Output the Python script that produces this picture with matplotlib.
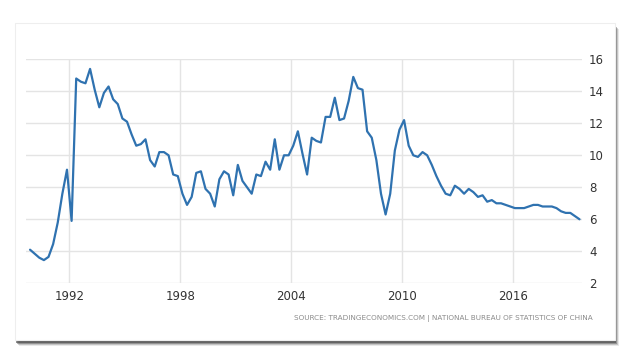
"""China GDP annual growth rate, quarterly, in the Trading Economics style."""

import matplotlib
matplotlib.use("Agg")
import matplotlib.pyplot as plt
import pandas as pd
from matplotlib.patches import Rectangle

# quarterly yoy growth, 1989Q4 .. 2019Q3
first_quarter = "1989Q4"
last_quarter = "2019Q3"
gdp_growth = [
    4.1,
    3.85, 3.6, 3.45, 3.65,
    4.45, 5.8, 7.6, 9.1,
    5.9, 14.8, 14.6, 14.5,
    15.4, 14.1, 13.0, 13.9,
    14.3, 13.5, 13.2, 12.3,
    12.1, 11.3, 10.6, 10.7,
    11.0, 9.7, 9.3, 10.2,
    10.2, 10.0, 8.8, 8.7,
    7.6, 6.9, 7.4, 8.9,
    9.0, 7.9, 7.6, 6.8,
    8.5, 9.0, 8.8, 7.5,
    9.4, 8.4, 8.0, 7.6,
    8.8, 8.7, 9.6, 9.1,
    11.0, 9.1, 10.0, 10.0,
    10.6, 11.5, 10.1, 8.8,
    11.1, 10.9, 10.8, 12.4,
    12.4, 13.6, 12.2, 12.3,
    13.4, 14.9, 14.2, 14.1,
    11.5, 11.1, 9.7, 7.6,
    6.3, 7.6, 10.3, 11.6,
    12.2, 10.6, 10.0, 9.9,
    10.2, 10.0, 9.4, 8.7,
    8.1, 7.6, 7.5, 8.1,
    7.9, 7.6, 7.9, 7.7,
    7.4, 7.5, 7.1, 7.2,
    7.0, 7.0, 6.9, 6.8,
    6.7, 6.7, 6.7, 6.8,
    6.9, 6.9, 6.8, 6.8,
    6.8, 6.7, 6.5, 6.4,
    6.4, 6.2, 6.0,
]
x_ticks = [1992, 1998, 2004, 2010, 2016]
y_ticks = [2, 4, 6, 8, 10, 12, 14, 16]
source_text = "SOURCE: TRADINGECONOMICS.COM | NATIONAL BUREAU OF STATISTICS OF CHINA"

periods = pd.period_range(first_quarter, last_quarter, freq="Q")
x = [p.year + (p.quarter - 0.5) / 4 for p in periods]

label_font = ["Liberation Sans Narrow", "DejaVu Sans"]

fig = plt.figure(figsize=(6.3, 3.6), dpi=100)
fig.patch.set_facecolor("white")

# card shadow on the right and bottom
for i, a in enumerate([0.12, 0.22, 0.38, 0.6]):
    off = (4 - i) / 630
    fig.patches.append(Rectangle((15 / 630 + off, 18 / 360 - off * 630 / 360),
                                 600 / 630, 317 / 360, transform=fig.transFigure,
                                 facecolor="#444444", alpha=a, edgecolor="none",
                                 zorder=0))
fig.patches.append(Rectangle((15 / 630, 20 / 360), 600 / 630, 317 / 360,
                             transform=fig.transFigure, facecolor="white",
                             edgecolor="#eeeeee", linewidth=0.8, zorder=1))

ax = fig.add_axes([26 / 630, 76.7 / 360, 556 / 630, 224 / 360])
ax.set_zorder(3)
ax.set_facecolor("none")
ax.plot(x, gdp_growth, color="#2f72b0", linewidth=1.6,
        solid_joinstyle="round", solid_capstyle="round", zorder=3)

ax.set_xlim(1989.656, 2019.758)
ax.set_ylim(2, 16)
ax.set_xticks(x_ticks)
ax.set_yticks(y_ticks)
ax.yaxis.tick_right()
ax.grid(True, color="#e4e4e4", linewidth=1.0)
ax.set_axisbelow(True)
for s in ax.spines.values():
    s.set_visible(False)
ax.tick_params(length=0, labelsize=8.5, labelcolor="#333333")
ax.tick_params(axis="x", pad=5)
ax.tick_params(axis="y", pad=5)
for lab in ax.get_xticklabels() + ax.get_yticklabels():
    lab.set_family(label_font)

fig.text(593 / 630, 1 - 318 / 360, source_text, ha="right", va="center",
         fontsize=5.2, color="#8a8a8a", family=label_font, zorder=4)

fig.savefig("out.png", dpi=100)
plt.close(fig)
